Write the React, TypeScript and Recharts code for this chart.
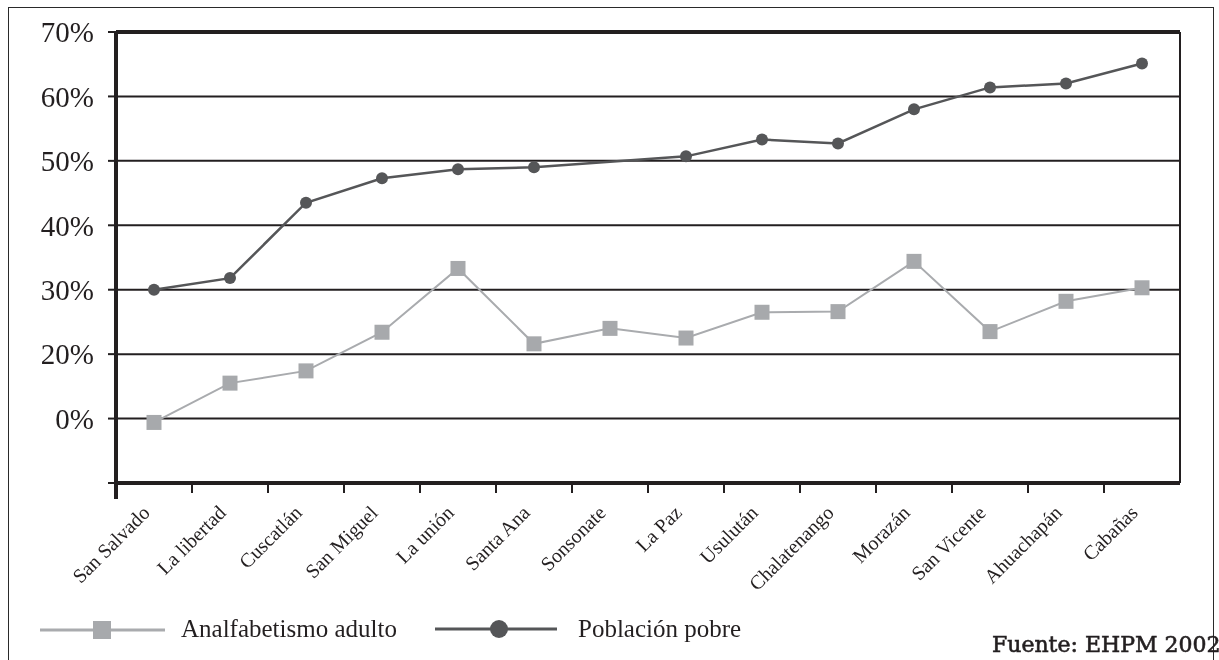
import React from 'react'
import { LineChart, Line, XAxis, YAxis, CartesianGrid, ReferenceLine, Legend } from 'recharts'

// departamentos ordenados por % de población pobre
const departamentos = [
  'San Salvado', 'La libertad', 'Cuscatlán', 'San Miguel', 'La unión', 'Santa Ana', 'Sonsonate',
  'La Paz', 'Usulután', 'Chalatenango', 'Morazán', 'San Vicente', 'Ahuachapán', 'Cabañas',
]
const analfabetismo = [9.4, 15.5, 17.4, 23.4, 33.3, 21.6, 24.0, 22.5, 26.5, 26.6, 34.4, 23.5, 28.2, 30.3]
// Sonsonate sin marcador: la línea pasa de largo
const pobreza = [30.0, 31.8, 43.5, 47.3, 48.7, 49.0, null, 50.7, 53.3, 52.7, 58.0, 61.4, 62.0, 65.1]

const yTicks = [0, 10, 20, 30, 40, 50, 60, 70]
const yTickLabels = ['', '0%', '20%', '30%', '40%', '50%', '60%', '70%']

const rows = departamentos.map((name, i) => ({
  name,
  analfabetismo: analfabetismo[i],
  pobreza: pobreza[i],
}))

const INK = '#231f20'
const GRIS_CLARO = '#a9abae'
const GRIS_OSCURO = '#555658'
const SERIF = '"Liberation Serif", "Times New Roman", serif'
const HALF_BAND = 38

function DeptTick(props: any) {
  const { x, y, payload, index } = props
  const tx = x - 3
  const ty = y + 31
  return (
    <g>
      {index < departamentos.length - 1 && (
        <line x1={x + HALF_BAND} x2={x + HALF_BAND} y1={y} y2={y + 10} stroke={INK} strokeWidth={2} />
      )}
      <text
        x={tx}
        y={ty}
        textAnchor="end"
        transform={`rotate(-45 ${tx} ${ty})`}
        fontSize={20}
        fontFamily={SERIF}
        fill={INK}
      >
        {payload.value}
      </text>
    </g>
  )
}

function SquareDot(props: any) {
  const { cx, cy } = props
  if (cx == null || cy == null) return <g />
  return <rect x={cx - 7.5} y={cy - 7.5} width={15} height={15} fill="#a7a9ac" />
}

function LegendRow() {
  return (
    <svg width={1211} height={52} style={{ display: 'block', overflow: 'visible' }}>
      <line x1={32} x2={157} y1={22} y2={22} stroke={GRIS_CLARO} strokeWidth={3} />
      <rect x={85} y={13} width={18} height={18} fill="#a7a9ac" />
      <text x={173} y={29} fontSize={25} fontFamily={SERIF} fill={INK}>Analfabetismo adulto</text>
      <line x1={427} x2={549} y1={21} y2={21} stroke={GRIS_OSCURO} strokeWidth={3} />
      <circle cx={491} cy={21} r={9} fill={GRIS_OSCURO} />
      <text x={570} y={29} fontSize={25} fontFamily={SERIF} fill={INK}>Población pobre</text>
      <text
        x={984}
        y={44}
        fontSize={22}
        fontFamily='"DejaVu Serif", serif'
        fill={INK}
        stroke={INK}
        strokeWidth={0.6}
      >
        Fuente: EHPM 2002
      </text>
    </svg>
  )
}

export default function App() {
  return (
    <div style={{ position: 'fixed', left: 8, top: 8, width: 1211, height: 652, fontFamily: SERIF }}>
      {/* marco exterior */}
      <div
        style={{
          position: 'absolute', left: 0, top: -1, width: 1206, height: 700,
          border: '1px solid #2a2a2a', boxSizing: 'border-box',
        }}
      />
      {/* prolongación del eje vertical bajo el eje de categorías */}
      <div style={{ position: 'absolute', left: 106, top: 475, width: 4, height: 16, background: INK }} />
      <LineChart width={1211} height={652} data={rows} margin={{ top: 24, right: 37, left: 0, bottom: 77 }}>
        <CartesianGrid vertical={false} stroke={INK} strokeWidth={2} />
        <XAxis
          dataKey="name"
          scale="band"
          interval={0}
          height={100}
          tickSize={0}
          tickMargin={0}
          tickLine={false}
          axisLine={{ stroke: INK, strokeWidth: 4 }}
          tick={<DeptTick />}
        />
        <YAxis
          domain={[0, 70]}
          ticks={yTicks}
          width={108}
          tickSize={8}
          tickMargin={14}
          tickLine={{ stroke: INK, strokeWidth: 2 }}
          axisLine={{ stroke: INK, strokeWidth: 4 }}
          tick={{ fill: INK, fontSize: 29, fontFamily: SERIF }}
          tickFormatter={(v: number) => yTickLabels[yTicks.indexOf(v)]}
        />
        <YAxis
          yAxisId="marco"
          orientation="right"
          domain={[0, 70]}
          width={2}
          tick={false}
          tickLine={false}
          axisLine={{ stroke: INK, strokeWidth: 2 }}
        />
        <ReferenceLine y={70} stroke={INK} strokeWidth={4} />
        <Line
          dataKey="analfabetismo"
          name="Analfabetismo adulto"
          stroke={GRIS_CLARO}
          strokeWidth={2}
          dot={<SquareDot />}
          isAnimationActive={false}
        />
        <Line
          dataKey="pobreza"
          name="Población pobre"
          stroke={GRIS_OSCURO}
          strokeWidth={2.5}
          connectNulls
          dot={{ r: 6, fill: GRIS_OSCURO, stroke: 'none' }}
          isAnimationActive={false}
        />
        <Legend
          layout="horizontal"
          verticalAlign="middle"
          align="center"
          wrapperStyle={{ position: 'absolute', left: 0, top: 600, width: 1211, height: 52 }}
          content={<LegendRow />}
        />
      </LineChart>
    </div>
  )
}
